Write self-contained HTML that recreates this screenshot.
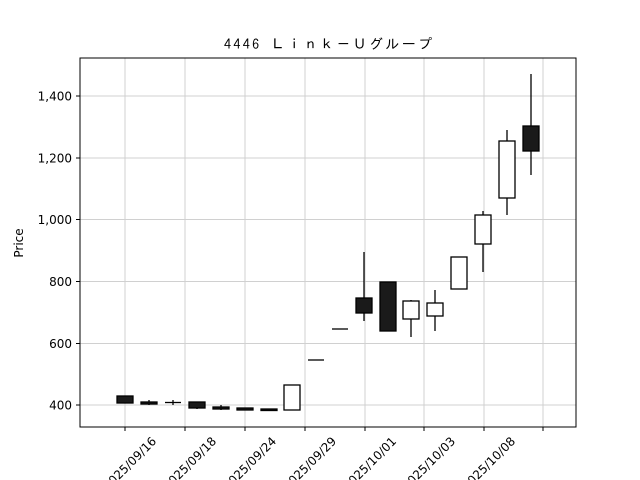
<!DOCTYPE html>
<html><head><style>body{margin:0;background:#fff}svg{display:block}text{font-family:"DejaVu Sans","Noto Sans CJK JP",sans-serif;fill:#000}</style></head>
<body>
<svg width="640" height="480" xmlns="http://www.w3.org/2000/svg">
<rect width="640" height="480" fill="#fff"/>
<text x="328" y="49" font-size="14" text-anchor="middle" style="font-family:IPAGothic,'Noto Sans CJK JP',sans-serif" textLength="208" lengthAdjust="spacing">4446 Ｌｉｎｋ－Ｕグループ</text>
<g stroke="#d0d0d0" stroke-width="1">
<line x1="125" y1="58" x2="125" y2="427"/><line x1="185" y1="58" x2="185" y2="427"/><line x1="245" y1="58" x2="245" y2="427"/><line x1="305" y1="58" x2="305" y2="427"/><line x1="365" y1="58" x2="365" y2="427"/><line x1="424" y1="58" x2="424" y2="427"/><line x1="484" y1="58" x2="484" y2="427"/><line x1="543" y1="58" x2="543" y2="427"/>
<line x1="80" y1="405" x2="576" y2="405"/><line x1="80" y1="343.5" x2="576" y2="343.5"/><line x1="80" y1="281.5" x2="576" y2="281.5"/><line x1="80" y1="219.5" x2="576" y2="219.5"/><line x1="80" y1="158" x2="576" y2="158"/><line x1="80" y1="96" x2="576" y2="96"/>
</g>
<g stroke="#000" stroke-width="1.3">
<line x1="364" y1="252" x2="364" y2="321"/><line x1="411" y1="300" x2="411" y2="337"/><line x1="435" y1="290" x2="435" y2="331"/><line x1="483" y1="211" x2="483" y2="272"/><line x1="507" y1="130" x2="507" y2="215"/><line x1="531" y1="74" x2="531" y2="175"/>
<line x1="149" y1="400" x2="149" y2="405"/><line x1="173" y1="400" x2="173" y2="405"/><line x1="197" y1="402" x2="197" y2="409"/><line x1="221" y1="405" x2="221" y2="410"/>
<line x1="308" y1="360" x2="324" y2="360"/><line x1="332" y1="329" x2="348" y2="329"/><line x1="165" y1="402.5" x2="181" y2="402.5"/>
</g>
<g stroke="#000" stroke-width="1.3">
<rect x="117" y="396" width="16" height="7" fill="#1a1a1a"/>
<rect x="141" y="402" width="16" height="2" fill="#1a1a1a"/>
<rect x="189" y="402" width="16" height="6" fill="#1a1a1a"/>
<rect x="213" y="407" width="16" height="2" fill="#1a1a1a"/>
<rect x="237" y="408" width="16" height="2" fill="#1a1a1a"/>
<rect x="261" y="409" width="16" height="1.5" fill="#1a1a1a"/>
<rect x="284" y="385" width="16" height="25" fill="#fff"/>
<rect x="356" y="298" width="16" height="15" fill="#1a1a1a"/>
<rect x="380" y="282" width="16" height="49" fill="#1a1a1a"/>
<rect x="403" y="301" width="16" height="18" fill="#fff"/>
<rect x="427" y="303" width="16" height="13" fill="#fff"/>
<rect x="451" y="257" width="16" height="32" fill="#fff"/>
<rect x="475" y="215" width="16" height="29" fill="#fff"/>
<rect x="499" y="141" width="16" height="57" fill="#fff"/>
<rect x="523" y="126" width="16" height="25" fill="#1a1a1a"/>
</g>
<rect x="80" y="58" width="496" height="369" fill="none" stroke="#000" stroke-width="1"/>
<g stroke="#000" stroke-width="1">
<line x1="125" y1="427" x2="125" y2="431"/><line x1="185" y1="427" x2="185" y2="431"/><line x1="245" y1="427" x2="245" y2="431"/><line x1="305" y1="427" x2="305" y2="431"/><line x1="365" y1="427" x2="365" y2="431"/><line x1="424" y1="427" x2="424" y2="431"/><line x1="484" y1="427" x2="484" y2="431"/><line x1="543" y1="427" x2="543" y2="431"/>
<line x1="76" y1="405" x2="80" y2="405"/><line x1="76" y1="343.5" x2="80" y2="343.5"/><line x1="76" y1="281.5" x2="80" y2="281.5"/><line x1="76" y1="219.5" x2="80" y2="219.5"/><line x1="76" y1="158" x2="80" y2="158"/><line x1="76" y1="96" x2="80" y2="96"/>
</g>
<g font-size="12" text-anchor="end">
<text x="72" y="409.5">400</text><text x="72" y="348">600</text><text x="72" y="286">800</text><text x="72" y="224">1,000</text><text x="72" y="162.5">1,200</text><text x="72" y="100.5">1,400</text>
</g>
<text transform="translate(23,243) rotate(-90)" font-size="12" text-anchor="middle">Price</text>
<g font-size="12" text-anchor="end">
<text transform="translate(157,442) rotate(-45)">2025/09/16</text>
<text transform="translate(217,442) rotate(-45)">2025/09/18</text>
<text transform="translate(277,442) rotate(-45)">2025/09/24</text>
<text transform="translate(337,442) rotate(-45)">2025/09/29</text>
<text transform="translate(397,442) rotate(-45)">2025/10/01</text>
<text transform="translate(456,442) rotate(-45)">2025/10/03</text>
<text transform="translate(516,442) rotate(-45)">2025/10/08</text>
</g>
</svg>
</body></html>
